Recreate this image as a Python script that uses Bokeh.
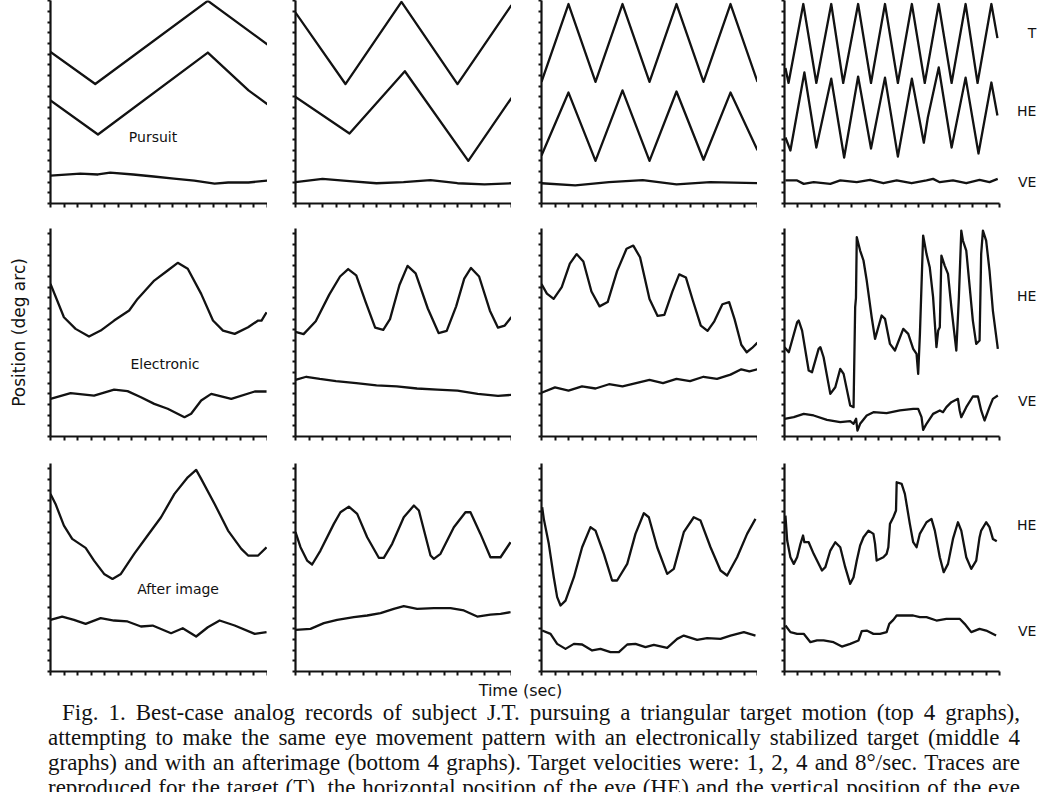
from bokeh.plotting import figure
from bokeh.layouts import column, row
from bokeh.models import Range1d, FixedTicker, Label, Div, Spacer
from bokeh.embed import file_html
from bokeh.resources import INLINE

# ---------------- data (x: time ticks 0..16, y: position ticks) ----------------
# Row 1: Pursuit
r1c1_T_x = [0, 3.3, 11.6, 16.0]
r1c1_T_y = [14.2, 11.2, 19.0, 14.9]
r1c1_HE_x = [0, 3.5, 11.6, 14.6, 16.0]
r1c1_HE_y = [9.65, 6.47, 14.15, 10.6, 9.3]
r1c1_VE_x = [0, 2.2, 3.5, 4.4, 6.1, 7.6, 9.1, 10.6, 12.1, 13.1, 14.6, 16.0]
r1c1_VE_y = [2.62, 2.81, 2.72, 2.9, 2.72, 2.53, 2.34, 2.15, 1.87, 1.97, 1.97, 2.15]

r1c2_T_x = [0, 3.7, 7.85, 12.0, 16.0]
r1c2_T_y = [17.9, 11.2, 18.9, 11.2, 18.6]
r1c2_HE_x = [0, 4.0, 8.1, 12.8, 16.0]
r1c2_HE_y = [10.0, 6.56, 12.4, 4.0, 9.9]
r1c2_VE_x = [0, 2, 4, 6, 8, 10, 12, 14, 16]
r1c2_VE_y = [2.0, 2.3, 2.1, 1.9, 2.0, 2.2, 1.9, 1.8, 1.9]

r1c3_T_x = [0, 2, 4, 6, 8, 10, 12, 14, 16]
r1c3_T_y = [11.4, 18.7, 11.4, 18.7, 11.4, 18.7, 11.4, 18.7, 11.4]
r1c3_HE_x = [0, 2, 4, 6, 8, 10, 12, 14, 16]
r1c3_HE_y = [4.5, 10.4, 4.0, 10.6, 4.0, 10.5, 4.1, 10.4, 5.0]
r1c3_VE_x = [0, 2.5, 5, 7.5, 10, 12.5, 16]
r1c3_VE_y = [1.9, 1.7, 2.0, 2.2, 1.8, 2.0, 1.9]

r1c4_T_x = [0.07, 0.3, 1.4, 2.37, 3.48, 4.37, 5.48, 6.44, 7.48, 8.44, 9.48, 10.44,
            11.48, 12.44, 13.48, 14.37, 15.4, 15.85]
r1c4_T_y = [12.7, 11.3, 18.7, 11.3, 18.7, 11.3, 18.7, 11.3, 18.7, 11.3, 18.7, 11.3,
            18.7, 11.3, 18.7, 11.3, 18.7, 15.5]
r1c4_HE_x = [0.07, 0.44, 1.48, 2.37, 3.48, 4.44, 5.48, 6.44, 7.48, 8.44, 9.48, 10.37,
             10.67, 11.48, 12.44, 13.48, 14.44, 15.4, 15.85]
r1c4_HE_y = [6.19, 4.97, 12.28, 5.25, 11.7, 4.31, 11.9, 5.15, 11.8, 4.4, 11.7, 5.7,
             8.06, 12.75, 5.25, 11.8, 4.69, 11.34, 8.25]
r1c4_VE_x = [0.07, 0.94, 1.43, 2.17, 3.41, 4.15, 5.38, 6.37, 7.36, 8.35, 9.46, 10.57,
             11.06, 11.56, 12.54, 13.53, 14.52, 15.26, 15.87]
r1c4_VE_y = [2.16, 2.16, 1.84, 2.0, 1.84, 2.16, 2.0, 2.22, 1.9, 2.16, 1.9, 2.16,
             2.31, 2.0, 2.16, 1.9, 2.22, 2.0, 2.31]

# Row 2: Electronic
r2c1_HE_x = [0, 0.99, 1.85, 2.84, 3.7, 4.69, 5.8, 6.42, 7.65, 8.64, 9.38, 10.12,
             11.11, 11.98, 12.72, 13.58, 14.57, 15.31, 15.56, 15.93]
r2c1_HE_y = [14.31, 11.18, 10.09, 9.37, 9.93, 10.87, 11.81, 12.9, 14.62, 15.56, 16.28,
             15.72, 13.37, 10.87, 9.93, 9.62, 10.24, 10.87, 10.87, 11.65]
r2c1_VE_x = [0, 1.48, 3.21, 4.69, 5.68, 6.67, 7.65, 8.64, 9.88, 10.37, 11.11, 11.85,
             13.33, 15.06, 15.93]
r2c1_VE_y = [3.53, 4.06, 3.84, 4.4, 4.25, 3.68, 3.06, 2.6, 1.81, 2.13, 3.37, 4.0,
             3.53, 4.22, 4.22]

r2c2_HE_x = [0, 0.6, 1.5, 2.5, 3.3, 3.9, 4.5, 5.2, 5.9, 6.5, 7.0, 7.7, 8.3, 8.9, 9.8,
             10.6, 11.2, 11.9, 12.5, 13.0, 13.6, 14.4, 15.0, 15.5, 16.0]
r2c2_HE_y = [9.8, 9.6, 10.8, 13.3, 15.0, 15.7, 15.1, 12.6, 10.2, 10.0, 11.0, 14.2,
             16.0, 15.3, 12.0, 9.7, 9.9, 12.2, 14.8, 15.8, 15.0, 11.8, 10.2, 10.4, 11.2]
r2c2_VE_x = [0, 0.8, 1.8, 3, 4.5, 6, 7.5, 9, 10.5, 12, 13.5, 15, 16]
r2c2_VE_y = [5.3, 5.6, 5.4, 5.2, 5.0, 4.8, 4.7, 4.5, 4.4, 4.3, 4.0, 3.8, 3.9]

r2c3_HE_x = [0, 0.4, 0.9, 1.5, 2.1, 2.6, 3.1, 3.7, 4.3, 4.9, 5.6, 6.3, 6.8, 7.3, 8.0,
             8.6, 9.1, 9.7, 10.2, 10.7, 11.2, 11.8, 12.3, 12.8, 13.4, 13.9, 14.3, 14.8,
             15.2, 15.6, 16.0]
r2c3_HE_y = [14.3, 13.4, 12.9, 14.0, 16.2, 17.1, 16.4, 13.6, 12.2, 12.6, 15.5, 17.6,
             17.9, 16.8, 12.9, 11.3, 11.4, 13.6, 15.2, 14.9, 12.8, 10.4, 9.9, 10.8,
             12.4, 12.6, 11.0, 8.6, 7.9, 8.3, 8.8]
r2c3_VE_x = [0, 1, 2, 3, 4, 5, 6, 7, 8, 9, 10, 11, 12, 13, 14, 14.8, 15.4, 16]
r2c3_VE_y = [4.1, 4.6, 4.3, 4.7, 4.5, 4.9, 4.7, 5.0, 5.3, 5.0, 5.4, 5.2, 5.6, 5.4,
             5.8, 6.3, 6.1, 6.3]

r2c4_HE_x = [0.0, 0.32, 0.94, 1.06, 1.31, 1.8, 2.05, 2.54, 2.67, 2.91, 3.41, 3.78,
             4.15, 4.4, 4.89, 5.14, 5.26, 5.32, 5.38, 5.63, 5.88, 6.12, 6.49, 6.74,
             7.23, 7.48, 7.85, 8.22, 8.84, 9.21, 9.58, 9.83, 9.95, 10.08, 10.32, 10.57,
             10.81, 11.06, 11.31, 11.44, 11.56, 11.68, 11.93, 12.17, 12.42, 12.79,
             12.98, 13.16, 13.28, 13.53, 14.02, 14.27, 14.52, 14.64, 14.77, 15.01,
             15.26, 15.51, 15.88]
r2c4_HE_y = [8.37, 7.9, 10.7, 10.87, 9.93, 6.19, 6.03, 8.22, 8.37, 7.43, 4.0, 4.62,
             6.34, 5.87, 2.9, 2.75, 12.12, 13.0, 18.68, 17.43, 16.5, 14.62, 11.18, 9.15,
             11.34, 11.03, 8.68, 8.06, 10.09, 9.62, 8.22, 7.75, 5.87, 9.62, 18.84, 17.12,
             15.87, 13.06, 8.37, 9.93, 10.25, 16.96, 16.0, 15.25, 12.12, 8.06,
             13.06, 19.3, 18.37, 17.43, 10.87, 8.68, 9.0, 17.12, 19.3, 18.37,
             15.56, 11.81, 8.22]
r2c4_VE_x = [0, 0.69, 1.43, 2.17, 3.16, 4.15, 4.89, 5.14, 5.33, 5.43, 5.63, 6.12, 6.62,
             7.6, 8.59, 9.58, 9.95, 10.2, 10.32, 10.57, 11.06, 11.56, 11.8, 12.05, 12.42,
             12.91, 13.04, 13.16, 13.53, 14.02, 14.4, 14.64, 14.89, 15.26, 15.51, 15.88]
r2c4_VE_y = [1.66, 1.81, 2.12, 1.97, 1.56, 1.34, 1.44, 1.19, 1.66, 0.56, 1.19, 1.97,
             2.28, 2.19, 2.44, 2.59, 2.59, 1.81, 0.62, 1.19, 2.12, 2.44, 2.28, 2.75, 3.22,
             3.53, 2.44, 1.81, 2.75, 3.75, 3.75, 2.44, 1.5, 2.75, 3.53, 3.84]

# Row 3: After image
r3c1_HE_x = [0, 0.37, 0.99, 1.6, 2.59, 3.21, 3.95, 4.57, 5.19, 6.17, 7.16, 8.15,
             9.14, 10.12, 10.74, 11.11, 12.1, 13.09, 14.07, 14.57, 15.31, 15.93]
r3c1_HE_y = [16.65, 15.71, 13.68, 12.43, 11.59, 10.4, 9.15, 8.68, 9.15, 11.03, 12.75,
             14.46, 16.65, 18.21, 18.9, 18.06, 15.71, 13.21, 11.5, 10.87, 10.87, 11.65]
r3c1_VE_x = [0, 0.86, 1.73, 2.59, 3.7, 4.69, 5.68, 6.67, 7.53, 8.89, 9.75, 10.74,
             11.6, 12.47, 13.58, 15.06, 15.93]
r3c1_VE_y = [4.84, 5.15, 4.84, 4.47, 5.0, 4.78, 4.69, 4.22, 4.31, 3.59, 4.06, 3.28,
             4.15, 4.78, 4.31, 3.53, 3.69]

r3c2_HE_x = [0, 0.37, 0.86, 1.23, 1.85, 2.84, 3.33, 3.95, 4.57, 5.31, 6.17, 6.54,
             7.16, 8.02, 8.77, 9.14, 10.0, 10.25, 10.74, 11.73, 12.59, 12.96, 13.7,
             14.44, 15.19, 15.93]
r3c2_HE_y = [13.06, 11.65, 10.4, 10.03, 11.34, 13.84, 14.93, 15.46, 14.78, 12.59,
             10.66, 10.66, 11.97, 14.46, 15.56, 15.09, 10.87, 10.56, 11.03, 13.53,
             14.93, 14.93, 12.9, 10.71, 10.71, 12.12]
r3c2_VE_x = [0, 1.11, 2.1, 3.09, 4.32, 5.31, 6.3, 7.28, 8.02, 9.01, 10.25, 11.48,
             12.47, 13.46, 14.44, 15.19, 15.93]
r3c2_VE_y = [3.9, 4.0, 4.53, 4.84, 5.09, 5.25, 5.47, 5.87, 6.12, 5.87, 5.94, 5.94,
             5.72, 5.15, 5.34, 5.4, 5.56]

r3c3_HE_x = [0.05, 0.17, 0.54, 0.91, 1.16, 1.41, 1.78, 2.4, 3.01, 3.63, 4.0, 4.62,
             5.23, 5.6, 6.35, 6.96, 7.58, 7.95, 8.57, 9.31, 9.8, 10.54, 11.28, 11.78,
             12.52, 13.26, 13.75, 14.49, 15.23, 15.85]
r3c3_HE_y = [15.4, 14.31, 11.97, 8.84, 6.97, 6.19, 6.65, 8.84, 11.65, 13.53, 13.21,
             11.03, 8.53, 8.53, 10.09, 12.9, 14.84, 14.46, 11.65, 9.15, 9.62, 13.06,
             14.46, 14.15, 11.65, 9.47, 9.0, 10.71, 12.9, 14.31]
r3c3_VE_x = [0.05, 0.67, 1.16, 1.78, 2.4, 3.01, 3.75, 4.37, 5.11, 5.73, 6.35, 6.96,
             7.7, 8.32, 9.31, 10.05, 10.54, 11.53, 12.27, 13.26, 14.0, 14.99, 15.85]
r3c3_VE_y = [3.84, 3.53, 2.59, 2.12, 2.59, 2.53, 1.97, 2.12, 1.81, 1.81, 2.53, 2.59,
             2.28, 2.5, 2.22, 3.06, 3.37, 2.97, 3.12, 3.06, 3.37, 3.69, 3.37]

r3c4_HE_x = [0.07, 0.2, 0.44, 0.69, 0.94, 1.19, 1.38, 1.48, 1.8, 2.17, 2.79, 3.04,
             3.41, 3.78, 4.15, 4.52, 4.89, 5.14, 5.38, 5.63, 5.88, 6.25, 6.62, 6.74,
             6.86, 7.36, 7.6, 7.73, 7.85, 8.1, 8.3, 8.35, 8.72, 8.96, 9.33, 9.58, 9.83,
             10.07, 10.57, 10.94, 11.19, 11.56, 11.85, 12.17, 12.54, 12.91, 13.16,
             13.53, 13.9, 14.27, 14.52, 14.64, 15.01, 15.26, 15.51, 15.8]
r3c4_HE_y = [14.62, 12.28, 10.71, 10.09, 10.71, 11.97, 12.75, 12.12, 12.12, 11.03,
             9.47, 9.78, 11.34, 12.12, 11.65, 9.78, 8.22, 8.84, 10.4, 11.81, 12.59,
             13.21, 12.9, 11.97, 10.4, 10.71, 11.03, 11.65, 13.84, 14.46, 15.09, 17.74,
             17.59, 16.65, 13.84, 12.12, 11.65, 12.9, 13.99, 14.31, 13.21, 10.71, 9.31,
             10.09, 12.43, 13.99, 13.21, 10.71, 9.62, 10.4, 12.59, 13.21, 13.99, 13.53,
             12.43, 12.21]
r3c4_VE_x = [0.07, 0.44, 0.94, 1.43, 1.93, 2.42, 2.91, 3.65, 4.27, 4.89, 5.51, 5.75,
             6.12, 6.62, 7.11, 7.6, 7.8, 8.1, 8.35, 8.84, 9.58, 10.07, 10.57, 11.31,
             12.05, 13.04, 13.41, 13.9, 14.52, 15.01, 15.75]
r3c4_VE_y = [4.31, 3.69, 3.53, 3.53, 2.75, 2.91, 2.91, 2.75, 2.34, 2.59, 2.91, 3.78,
             3.84, 3.53, 3.53, 3.69, 4.47, 4.84, 5.25, 5.25, 5.25, 5.09, 5.09, 4.78,
             4.94, 4.94, 4.47, 3.69, 4.0, 3.84, 3.37]

# panel texts
condition_names = ["Pursuit", "Electronic", "After image"]
condition_pos = [(7.56, 6.19), (8.44, 6.84), (9.41, 7.69)]
trace_names = [["T", "HE", "VE"], ["HE", "VE"], ["HE", "VE"]]
trace_name_y = [[16.0, 8.7, 2.06], [13.2, 3.37], [13.7, 3.84]]

x_ticks = list(range(0, 17))
row_top = [19.03, 19.5, 19.5]

rows_data = [
    [[(r1c1_T_x, r1c1_T_y), (r1c1_HE_x, r1c1_HE_y), (r1c1_VE_x, r1c1_VE_y)],
     [(r1c2_T_x, r1c2_T_y), (r1c2_HE_x, r1c2_HE_y), (r1c2_VE_x, r1c2_VE_y)],
     [(r1c3_T_x, r1c3_T_y), (r1c3_HE_x, r1c3_HE_y), (r1c3_VE_x, r1c3_VE_y)],
     [(r1c4_T_x, r1c4_T_y), (r1c4_HE_x, r1c4_HE_y), (r1c4_VE_x, r1c4_VE_y)]],
    [[(r2c1_HE_x, r2c1_HE_y), (r2c1_VE_x, r2c1_VE_y)],
     [(r2c2_HE_x, r2c2_HE_y), (r2c2_VE_x, r2c2_VE_y)],
     [(r2c3_HE_x, r2c3_HE_y), (r2c3_VE_x, r2c3_VE_y)],
     [(r2c4_HE_x, r2c4_HE_y), (r2c4_VE_x, r2c4_VE_y)]],
    [[(r3c1_HE_x, r3c1_HE_y), (r3c1_VE_x, r3c1_VE_y)],
     [(r3c2_HE_x, r3c2_HE_y), (r3c2_VE_x, r3c2_VE_y)],
     [(r3c3_HE_x, r3c3_HE_y), (r3c3_VE_x, r3c3_VE_y)],
     [(r3c4_HE_x, r3c4_HE_y), (r3c4_VE_x, r3c4_VE_y)]],
]

# ---------------- layout ----------------
col_left = [50, 28, 30, 27]
col_frame = [217, 216, 216, 257]        # last column also holds the T/HE/VE names
col_xmax = [16, 16, 16, 19.13]
row_frame = [203, 208, 208]
row_bottom = [25, 27, 10]
INK = "#121212"
SANS = "DejaVu Sans"


def make_panel(r, c):
    top = row_top[r]
    p = figure(frame_width=col_frame[c], frame_height=row_frame[r],
               x_range=Range1d(0, col_xmax[c]), y_range=Range1d(0, top),
               min_border_left=col_left[c], min_border_right=0,
               min_border_top=0, min_border_bottom=row_bottom[r],
               toolbar_location=None, tools="", output_backend="svg")
    p.outline_line_color = None
    p.grid.visible = False
    p.background_fill_color = "white"
    p.border_fill_color = "white"
    y_ticks = [t for t in range(0, 20) if t <= top]
    p.xaxis.ticker = FixedTicker(ticks=x_ticks)
    p.yaxis.ticker = FixedTicker(ticks=y_ticks)
    p.xaxis.bounds = (0, 16)
    p.xaxis.major_label_overrides = {t: "" for t in x_ticks}
    p.yaxis.major_label_overrides = {t: "" for t in y_ticks}
    for ax in (p.xaxis[0], p.yaxis[0]):
        ax.major_label_text_font_size = "0px"
        ax.major_label_standoff = 0
        ax.axis_line_color = INK
        ax.axis_line_width = 2.2
        ax.major_tick_line_color = INK
        ax.major_tick_line_width = 2
        ax.major_tick_in = 0
        ax.minor_tick_line_color = None
    p.xaxis.major_tick_out = 4
    p.yaxis.major_tick_out = 3
    for xs, ys in rows_data[r][c]:
        p.line(xs, ys, line_color=INK, line_width=2.3, line_join="round")
    if c == 0:
        lx, ly = condition_pos[r]
        p.add_layout(Label(x=lx, y=ly, text=condition_names[r], text_align="center",
                           text_baseline="middle", text_font=SANS,
                           text_font_size="14px", text_color=INK))
    if c == 0 and r == 1:
        p.yaxis.axis_label = "Position (deg arc)"
        p.yaxis.axis_label_standoff = 19
        p.yaxis.axis_label_text_font = SANS
        p.yaxis.axis_label_text_font_size = "17px"
        p.yaxis.axis_label_text_font_style = "normal"
        p.yaxis.axis_label_text_color = INK
    if c == 3:
        for name, ny in zip(trace_names[r], trace_name_y[r]):
            p.add_layout(Label(x=18.75, y=ny, text=name, text_align="right",
                               text_baseline="middle", text_font=SANS,
                               text_font_size="14px", text_color=INK))
    return p


panel_rows = [row(*[make_panel(r, c) for c in range(4)]) for r in range(3)]

time_div = Div(text='<div style="width:1041px;text-align:center;font-family:\'DejaVu Sans\';'
                    'font-size:16px;line-height:19px;color:#121212;">Time (sec)</div>',
               width=1041, height=19, margin=(0, 0, 0, 0))

caption_lines = [
    "Fig. 1. Best-case analog records of subject J.T. pursuing a triangular target motion (top 4 graphs),",
    "attempting to make the same eye movement pattern with an electronically stabilized target (middle 4",
    "graphs) and with an afterimage (bottom 4 graphs). Target velocities were: 1, 2, 4 and 8\u00b0/sec. Traces are",
    "reproduced for the target (T), the horizontal position of the eye (HE) and the vertical position of the eye",
]
line_html = []
for i, ln in enumerate(caption_lines):
    indent = "text-indent:14px;" if i == 0 else ""
    line_html.append('<div style="text-align:justify;text-align-last:justify;%s">%s</div>' % (indent, ln))
caption_html = ('<div style="width:972px;height:92px;overflow:hidden;font-family:\'Liberation Serif\';'
                'font-size:23px;line-height:25px;color:#121212;">'
                + "".join(line_html) + "</div>")
caption_div = Div(text=caption_html, width=972, height=92, margin=(0, 0, 0, 0))
caption_row = row(Spacer(width=48, height=92), caption_div)

layout = column(*panel_rows, time_div, caption_row)

open("out.html", "w").write(file_html(layout, INLINE))
